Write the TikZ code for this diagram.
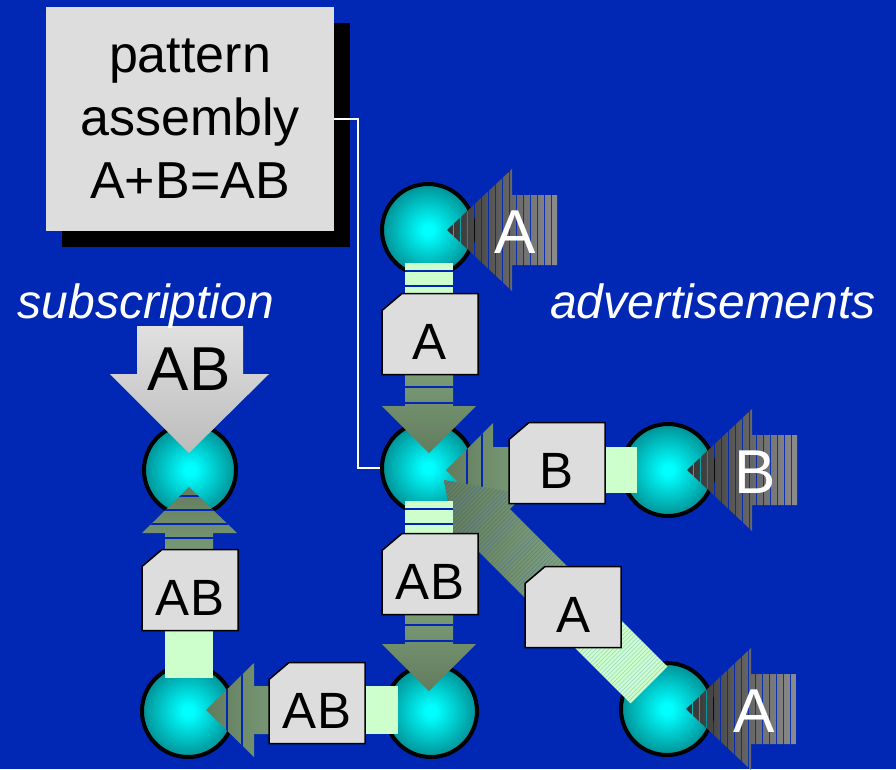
\documentclass[tikz,border=0pt]{standalone}
\usepackage{fontspec}
\setmainfont{Liberation Sans}
\usetikzlibrary{calc,shadows}

\definecolor{slide}{RGB}{0,40,180}
\definecolor{stem}{RGB}{204,255,204}
\definecolor{card}{RGB}{221,221,221}
\definecolor{flowlt}{RGB}{134,170,130}
\definecolor{flowdk}{RGB}{98,124,94}
\definecolor{feeddk}{RGB}{50,50,50}
\definecolor{feedlt}{RGB}{140,140,140}
\definecolor{subtop}{RGB}{224,224,224}
\definecolor{subbot}{RGB}{188,188,188}
\definecolor{peerin}{RGB}{0,255,255}
\definecolor{peerout}{RGB}{0,145,150}

\pgfdeclareradialshading{peerball}{\pgfpoint{0bp}{0bp}}{color(0bp)=(peerin); color(3bp)=(peerin); color(25bp)=(peerout); color(50bp)=(peerout)}

\tikzset{
  peer/.style={circle, draw=black, line width=4pt, minimum size=92pt, inner sep=0pt, shade, shading=peerball},
  cardline/.style={draw=black, line width=1.5pt, fill=card},
  msgtext/.style={inner sep=0pt, text height=50pt, text depth=0pt, font=\fontsize{51}{60}\selectfont},
  msgcard/.pic={
    \draw[cardline] (-28,-40.5) -- (48,-40.5) -- (48,40.5) -- (-48,40.5) -- (-48,-23.5) -- cycle;
    \node[msgtext] (-tag) at (0,0) {#1};
  },
  asm/.style={fill=card, minimum width=288pt, minimum height=224pt, align=center, inner sep=0pt,
    font=\fontsize{52}{63}\selectfont,
    drop shadow={shadow xshift=16pt, shadow yshift=-16pt, fill=black, opacity=1}},
  wire/.style={draw=white, line width=1.5pt},
  feedtag/.style={text=white, inner sep=0pt, font=\fontsize{62}{70}\selectfont},
  subtag/.style={text=black, inner sep=0pt, font=\fontsize{62}{70}\selectfont},
  captext/.style={text=white, inner sep=0pt, font=\fontsize{48}{56}\selectfont\itshape},
  rib/.style={draw=slide, line width=1.2pt},
  hatch/.style={draw=slide, line width=0.5pt, opacity=0.22},
}

\begin{document}
\begin{tikzpicture}[x=1pt, y=-1pt]
  \fill[slide] (0,0) rectangle (896,769);
  \useasboundingbox (0,0) rectangle (896,769);

  % assembly box
  \node[asm] (asm) at (190,119) {pattern\\assembly\\A+B=AB};

  % peers
  \node[peer] (top)  at (428,230) {};
  \node[peer] (join) at (428,468) {};
  \node[peer] (pb)   at (668,470) {};
  \node[peer] (pa)   at (667,709) {};
  \node[peer] (out)  at (431,711) {};
  \node[peer] (sink) at (188,711) {};
  \node[peer] (sub)  at (190,470) {};

  \draw[wire] (asm.east) -- ++(24,0) |- (join.west);

  % striped advertisement arrows
  \foreach \p/\lbl [count=\n] in {top/A, pb/B, pa/A}{
    \begin{scope}[shift={(\p.center)}]
      \clip (19,0) -- (84,-61) -- (84,-35) -- (129,-35) -- (129,35) -- (84,35) -- (84,61) -- cycle;
      \clip foreach \k in {0,...,15} {(19+7*\k,-62) rectangle ++(6,124)};
      \shade[left color=feeddk, right color=feedlt] (19,-62) rectangle (129,62);
    \end{scope}
    \node[feedtag] (tag\n) at ($(\p)+(87,2)$) {\lbl};
  }

  % B into the join
  \fill[stem] (606,447) rectangle (637,493);
  \begin{scope}
    \clip (446,470) -- (493,423) -- (493,447) -- (557,447) -- (557,493) -- (493,493) -- (493,517) -- cycle;
    \shade[left color=flowdk, right color=flowlt] (446,423) rectangle (557,517);
    \draw[rib] (467,420) -- (467,520) (482,420) -- (482,520);
  \end{scope}

  % A on the diagonal
  \begin{scope}[shift={(444,480)}, rotate=-45]
    \fill[stem] (176,-26) rectangle (290,26);
    \shade[left color=flowdk, right color=flowlt] (0,0) -- (67,-47) -- (67,-26) -- (176,-26) -- (176,26) -- (67,26) -- (67,47) -- cycle;
    \clip (0,0) -- (67,-47) -- (67,-26) -- (290,-26) -- (290,26) -- (67,26) -- (67,47) -- cycle;
    \foreach \s in {2,5,...,290} \draw[hatch] (\s,-50) -- (\s,50);
  \end{scope}

  % AB out to the sink
  \fill[stem] (366,686) rectangle (398,734);
  \begin{scope}
    \clip (206,710) -- (254,663) -- (254,686) -- (317,686) -- (317,734) -- (254,734) -- (254,757) -- cycle;
    \shade[left color=flowdk, right color=flowlt] (206,663) rectangle (317,757);
    \draw[rib] (227,660) -- (227,760) (242,660) -- (242,760);
  \end{scope}

  % downward flows
  \foreach \p in {top,join}{
    \begin{scope}[shift={(\p.center)}]
      \fill[stem] (-23,33) rectangle (25,104);
      \draw[rib] (-23,41) -- (25,41) (-23,56) -- (25,56);
      \shade[top color=flowlt, bottom color=flowdk] (-23,104) -- (-23,176) -- (-46,176) -- (1,223) -- (48,176) -- (25,176) -- (25,104) -- cycle;
      \draw[rib] (-23,157) -- (25,157) (-23,173) -- (25,173);
    \end{scope}
  }

  % AB up to the subscriber
  \fill[stem] (165,590) rectangle (213,678);
  \begin{scope}
    \clip (165,590) -- (165,533) -- (142,533) -- (189,487) -- (237,533) -- (213,533) -- (213,590) -- cycle;
    \shade[top color=flowdk, bottom color=flowlt] (142,487) rectangle (237,590);
    \foreach \y in {496,510,524,538} \draw[rib] (140,\y) -- (240,\y);
  \end{scope}

  % subscription arrow
  \shade[top color=subtop, bottom color=subbot] (137,326) -- (243,326) -- (243,374) -- (269,374) -- (189,453) -- (110,374) -- (137,374) -- cycle;
  \node[subtag] (want) at (189,369) {AB};

  % messages
  \pic (mtop)  at (430,334) {msgcard=A};
  \pic (mmid)  at (430,574) {msgcard=AB};
  \pic (mb)    at (557,463) {msgcard=B};
  \pic (mdiag) at (573,607) {msgcard=A};
  \pic (mout)  at (317,703) {msgcard=AB};
  \pic (msink) at (190,590) {msgcard=AB};

  \node[captext, anchor=base] (subcap) at (146,318) {subscription};
  \node[captext, anchor=base] (advcap) at (713,318) {advertisements};
\end{tikzpicture}
\end{document}
